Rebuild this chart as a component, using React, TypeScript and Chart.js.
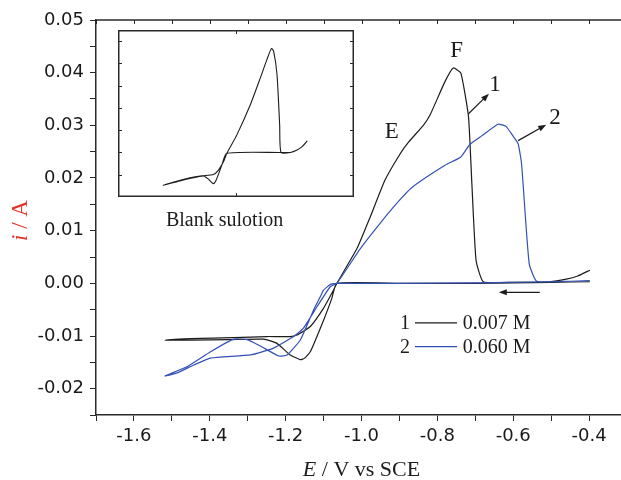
import React, { useEffect, useRef } from "react";
import { Chart, registerables } from "chart.js";

Chart.register(...registerables);

// ---------- Data ----------
// Curve 1: 0.007 M (black). Scan starts at -0.4 V going negative, then back.
const S1_E = [
  -0.398, -0.5, -0.6, -0.7, -0.9, -1.065, -1.078, -1.1, -1.135, -1.15, -1.161, -1.188, -1.223, -1.258, -1.35, -1.45, -1.518,
  -1.45, -1.337, -1.249, -1.188, -1.17, -1.135, -1.1, -1.074, -1.065, -1.012, -0.977, -0.938, -0.898, -0.876, -0.837, -0.819,
  -0.78, -0.758, -0.738, -0.718, -0.709, -0.698, -0.679, -0.6, -0.504, -0.46, -0.43, -0.398,
];
const S1_I = [
  0.0003, 0.0002, 0.0001, 0.0, 0.0, 0.0, -0.0028, -0.007, -0.013, -0.0142, -0.0145, -0.0136, -0.0114, -0.0106, -0.0107, -0.0108, -0.0108,
  -0.0105, -0.0103, -0.0101, -0.0101, -0.0098, -0.0082, -0.0047, -0.0013, 0.0, 0.0066, 0.0126, 0.0196, 0.0246, 0.0268, 0.03, 0.032,
  0.0383, 0.0409, 0.0399, 0.0317, 0.0189, 0.0044, 0.0003, 0.0002, 0.0003, 0.0008, 0.0014, 0.0025,
];

// Curve 2: 0.060 M (blue)
const S2_E = [
  -0.398, -0.5, -0.7, -0.9, -1.065, -1.082, -1.1, -1.109, -1.126, -1.161, -1.196, -1.218, -1.267, -1.302, -1.337, -1.398, -1.459, -1.518,
  -1.486, -1.442, -1.398, -1.293, -1.232, -1.179, -1.153, -1.117, -1.082, -1.065, -1.003, -0.951, -0.902, -0.867, -0.78, -0.738,
  -0.714, -0.683, -0.64, -0.619, -0.598, -0.587, -0.578, -0.558, -0.538, -0.45, -0.398,
];
const S2_I = [
  0.0005, 0.0003, 0.0001, 0.0, 0.0, -0.0002, -0.0013, -0.0026, -0.005, -0.0107, -0.0136, -0.0138, -0.0119, -0.0107, -0.0106, -0.013, -0.0158, -0.0176,
  -0.017, -0.0155, -0.0142, -0.0136, -0.0123, -0.0101, -0.0085, -0.0044, -0.0006, 0.0, 0.0066, 0.0114, 0.0156, 0.0182, 0.0224, 0.024,
  0.0264, 0.028, 0.0302, 0.0298, 0.0277, 0.0265, 0.0227, 0.0038, 0.0004, 0.0004, 0.0005,
];

// Inset: blank solution
const INSET_E = [
  -0.631, -0.695, -1.062, -1.096, -1.135, -1.153, -1.187, -1.221, -1.312, -1.403, -1.494,
  -1.403, -1.312, -1.232, -1.153, -1.119, -1.085, -1.062, -0.994, -0.903, -0.835, -0.79, -0.76, -0.745, -0.722, -0.704, -0.695,
  -0.631, -0.586, -0.552, -0.517,
];
const INSET_I = [
  0.0, 0.0, -0.0004, -0.0057, -0.0125, -0.014, -0.012, -0.0105, -0.0117, -0.0132, -0.0147,
  -0.0129, -0.0114, -0.0105, -0.0099, -0.0079, -0.0042, -0.0004, 0.0079, 0.0214, 0.0335, 0.0418, 0.0467, 0.0455, 0.035, 0.0124, 0.0,
  0.0, 0.0011, 0.0026, 0.0052,
];

const SERIES_LABELS = ["1", "2"];
const SERIES_NAMES = ["0.007 M", "0.060 M"];
const X_LABELED = [-1.6, -1.4, -1.2, -1.0, -0.8, -0.6, -0.4];
const Y_LABELED = [-0.02, -0.01, 0.0, 0.01, 0.02, 0.03, 0.04, 0.05];

const BLACK = "#1c1c1c";
const BLUE = "#3550b4";
const AXIS = "#2a2a2a";
const RED = "#e5332a";
const SERIF = "'Liberation Serif', 'Times New Roman', serif";
const SANS = "'DejaVu Sans', sans-serif";

const toPts = (xs: number[], ys: number[]) => xs.map((x, i) => ({ x, y: ys[i] }));

function arrow(ctx: CanvasRenderingContext2D, x1: number, y1: number, x2: number, y2: number, color: string) {
  const ang = Math.atan2(y2 - y1, x2 - x1);
  const hl = 8, hw = 3;
  ctx.strokeStyle = color;
  ctx.fillStyle = color;
  ctx.lineWidth = 1.2;
  ctx.beginPath();
  ctx.moveTo(x1, y1);
  ctx.lineTo(x2 - hl * 0.7 * Math.cos(ang), y2 - hl * 0.7 * Math.sin(ang));
  ctx.stroke();
  ctx.beginPath();
  ctx.moveTo(x2, y2);
  ctx.lineTo(x2 - hl * Math.cos(ang) + hw * Math.sin(ang), y2 - hl * Math.sin(ang) - hw * Math.cos(ang));
  ctx.lineTo(x2 - hl * Math.cos(ang) - hw * Math.sin(ang), y2 - hl * Math.sin(ang) + hw * Math.cos(ang));
  ctx.closePath();
  ctx.fill();
}

function richText(
  ctx: CanvasRenderingContext2D,
  parts: { t: string; it?: boolean }[],
  cx: number,
  y: number,
  size: number,
  color: string
) {
  const fonts = parts.map((p) => `${p.it ? "italic " : ""}${size}px ${SERIF}`);
  let total = 0;
  const widths = parts.map((p, i) => {
    ctx.font = fonts[i];
    const w = ctx.measureText(p.t).width;
    total += w;
    return w;
  });
  let x = cx - total / 2;
  ctx.fillStyle = color;
  ctx.textAlign = "left";
  parts.forEach((p, i) => {
    ctx.font = fonts[i];
    ctx.fillText(p.t, x, y);
    x += widths[i];
  });
}

const mainDecor = {
  id: "mainDecor",
  afterDraw(chart: any) {
    const { ctx, chartArea: a, scales } = chart;
    const xs = scales.x, ys = scales.y;
    const X = (v: number) => xs.getPixelForValue(v);
    const Y = (v: number) => ys.getPixelForValue(v);
    ctx.save();
    // top frame line and inward ticks
    ctx.strokeStyle = AXIS;
    ctx.lineWidth = 1.5;
    ctx.beginPath();
    ctx.moveTo(a.left, a.top);
    ctx.lineTo(a.right + 5, a.top);
    ctx.stroke();
    ctx.lineWidth = 1;
    ctx.beginPath();
    xs.ticks.forEach((t: any) => {
      const px = Math.round(X(t.value)) + 0.5;
      ctx.moveTo(px, a.top);
      ctx.lineTo(px, a.top + 4);
    });
    ctx.stroke();

    // peak labels
    ctx.fillStyle = BLACK;
    ctx.textAlign = "center";
    ctx.textBaseline = "middle";
    ctx.font = `23px ${SERIF}`;
    ctx.fillText("E", X(-0.92), Y(0.0287));
    ctx.fillText("F", X(-0.749), Y(0.0442));
    ctx.fillText(SERIES_LABELS[0], X(-0.648), Y(0.0376));
    ctx.fillText(SERIES_LABELS[1], X(-0.49), Y(0.0314));

    arrow(ctx, X(-0.718), Y(0.0322), X(-0.664), Y(0.036), BLACK);
    arrow(ctx, X(-0.587), Y(0.0271), X(-0.513), Y(0.0301), BLACK);
    // scan direction arrow
    arrow(ctx, X(-0.53), Y(-0.0017), X(-0.638), Y(-0.0017), BLACK);

    // legend
    ctx.font = `20px ${SERIF}`;
    [BLACK, BLUE].forEach((c, i) => {
      const yy = Y(i === 0 ? -0.0075 : -0.012);
      ctx.fillStyle = BLACK;
      ctx.textAlign = "center";
      ctx.fillText(SERIES_LABELS[i], X(-0.885), yy + 1);
      ctx.strokeStyle = c;
      ctx.lineWidth = 1.2;
      ctx.beginPath();
      ctx.moveTo(X(-0.859), yy);
      ctx.lineTo(X(-0.748), yy);
      ctx.stroke();
      ctx.textAlign = "left";
      ctx.fillText(SERIES_NAMES[i], X(-0.733), yy + 1);
    });

    // inset caption
    ctx.textAlign = "center";
    ctx.font = `20px ${SERIF}`;
    ctx.fillText("Blank sulotion", X(-1.361), Y(0.0118));

    // axis titles
    ctx.textBaseline = "alphabetic";
    richText(ctx, [{ t: "E", it: true }, { t: " / V vs SCE" }], (a.left + a.right) / 2, 476, 22, BLACK);
    ctx.translate(27, (a.top + a.bottom) / 2 + 3);
    ctx.rotate(-Math.PI / 2);
    richText(ctx, [{ t: "i", it: true }, { t: " / A" }], 0, 0, 23, RED);
    ctx.restore();
  },
};

const insetDecor = {
  id: "insetDecor",
  afterDraw(chart: any) {
    const { ctx, chartArea: a, scales } = chart;
    const xs = scales.x, ys = scales.y;
    ctx.save();
    ctx.strokeStyle = AXIS;
    ctx.lineWidth = 1.5;
    ctx.strokeRect(a.left + 0.75, a.top + 0.75, a.right - a.left - 1.5, a.bottom - a.top - 1.5);
    ctx.lineWidth = 1;
    ctx.beginPath();
    ys.ticks.forEach((t: any) => {
      const py = Math.round(ys.getPixelForValue(t.value)) + 0.5;
      if (py < a.top + 3 || py > a.bottom - 3) return;
      ctx.moveTo(a.left, py);
      ctx.lineTo(a.left + 4, py);
      ctx.moveTo(a.right, py);
      ctx.lineTo(a.right - 4, py);
    });
    xs.ticks.forEach((t: any) => {
      const px = Math.round(xs.getPixelForValue(t.value)) + 0.5;
      if (px < a.left + 3 || px > a.right - 3) return;
      ctx.moveTo(px, a.top);
      ctx.lineTo(px, a.top + 4);
      ctx.moveTo(px, a.bottom);
      ctx.lineTo(px, a.bottom - 4);
    });
    ctx.stroke();
    ctx.restore();
  },
};

export default function App() {
  const mainRef = useRef<HTMLCanvasElement>(null);
  const insetRef = useRef<HTMLCanvasElement>(null);

  useEffect(() => {
    document.body.style.overflow = "hidden";
    const main = new Chart(mainRef.current!, {
      type: "scatter",
      data: {
        datasets: [
          {
            label: SERIES_NAMES[0],
            data: toPts(S1_E, S1_I),
            showLine: true,
            borderColor: BLACK,
            borderWidth: 1.2,
            pointRadius: 0,
            tension: 0.15,
            order: 1,
          },
          {
            label: SERIES_NAMES[1],
            data: toPts(S2_E, S2_I),
            showLine: true,
            borderColor: BLUE,
            borderWidth: 1.2,
            pointRadius: 0,
            tension: 0.15,
            order: 0,
          },
        ],
      },
      options: {
        responsive: false,
        animation: false,
        events: [],
        layout: { padding: { top: 20, right: 4, left: 0, bottom: 0 } },
        plugins: { legend: { display: false }, tooltip: { enabled: false } },
        scales: {
          x: {
            type: "linear",
            min: -1.7,
            max: -0.3,
            afterFit: (s: any) => {
              s.height = 65;
            },
            ticks: {
              stepSize: 0.1,
              autoSkip: false,
              maxRotation: 0,
              padding: 5,
              color: "#1a1a1a",
              font: { family: SANS, size: 18 },
              callback: (v: any) => {
                const m = X_LABELED.find((l) => Math.abs(l - v) < 1e-6);
                return m === undefined ? "" : m.toFixed(1);
              },
            },
            grid: { drawOnChartArea: false, drawTicks: true, tickLength: 6, color: AXIS, lineWidth: 1 },
            border: { display: true, color: AXIS, width: 1.5 },
          },
          y: {
            type: "linear",
            min: -0.025,
            max: 0.05,
            afterFit: (s: any) => {
              s.width = 96;
            },
            ticks: {
              stepSize: 0.005,
              autoSkip: false,
              padding: 6,
              color: "#1a1a1a",
              font: { family: SANS, size: 18 },
              callback: (v: any) => {
                const m = Y_LABELED.find((l) => Math.abs(l - v) < 1e-7);
                return m === undefined ? "" : m.toFixed(2);
              },
            },
            grid: { drawOnChartArea: false, drawTicks: true, tickLength: 6, color: AXIS, lineWidth: 1 },
            border: { display: true, color: AXIS, width: 1.5 },
          },
        },
      },
      plugins: [mainDecor],
    });

    const inset = new Chart(insetRef.current!, {
      type: "scatter",
      data: {
        datasets: [
          {
            label: "Blank sulotion",
            data: toPts(INSET_E, INSET_I),
            showLine: true,
            borderColor: BLACK,
            borderWidth: 1.1,
            pointRadius: 0,
            tension: 0.2,
          },
        ],
      },
      options: {
        responsive: false,
        animation: false,
        events: [],
        layout: { padding: 0 },
        plugins: { legend: { display: false }, tooltip: { enabled: false } },
        scales: {
          x: { type: "linear", display: false, min: -1.8, max: -0.2, ticks: { stepSize: 0.8 } },
          y: { type: "linear", display: false, min: -0.02, max: 0.055, ticks: { stepSize: 0.005 } },
        },
      },
      plugins: [insetDecor],
    });

    return () => {
      main.destroy();
      inset.destroy();
    };
  }, []);

  return (
    <div style={{ position: "fixed", left: 0, top: 0, width: 621, height: 480, overflow: "hidden", background: "#fff" }}>
      <canvas ref={mainRef} width={632} height={480} style={{ position: "absolute", left: 0, top: 0 }} />
      <canvas ref={insetRef} width={236} height={167} style={{ position: "absolute", left: 118, top: 30 }} />
    </div>
  );
}
